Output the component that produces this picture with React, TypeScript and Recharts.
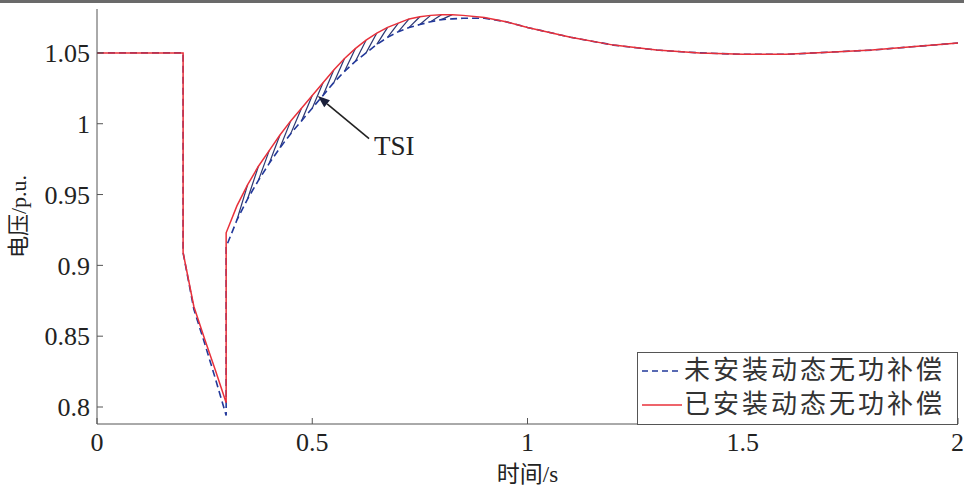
import { LineChart, Line, XAxis, YAxis, Legend, ReferenceLine } from "recharts";

// time axis (s); repeated instants mark the fault-on / fault-clear jumps
const time = [
  0, 0.2, 0.2, 0.225, 0.25, 0.275, 0.3, 0.3,
  0.325, 0.35, 0.375, 0.4, 0.425, 0.45, 0.475, 0.5, 0.525, 0.55, 0.575, 0.6,
  0.625, 0.65, 0.675, 0.7, 0.725, 0.75, 0.775, 0.8, 0.825, 0.85,
  0.9, 0.95, 1.0, 1.1, 1.2, 1.3, 1.4, 1.5, 1.6, 1.7, 1.8, 1.9, 2.0,
];

// 已安装动态无功补偿 (red, solid)
const withComp = [
  1.05, 1.05, 0.909, 0.871, 0.848, 0.826, 0.803, 0.923,
  0.942, 0.957, 0.97, 0.981, 0.992, 1.002, 1.011, 1.02, 1.029, 1.038, 1.046, 1.053,
  1.059, 1.064, 1.068, 1.071, 1.074, 1.0755, 1.0765, 1.077, 1.077, 1.0765,
  1.075, 1.072, 1.068, 1.061, 1.0555, 1.052, 1.05, 1.049, 1.049, 1.0505, 1.052, 1.0545, 1.057,
];

// 未安装动态无功补偿 (blue, dashed)
const noComp = [
  1.05, 1.05, 0.909, 0.869, 0.845, 0.82, 0.794, 0.913,
  0.932, 0.947, 0.96, 0.972, 0.983, 0.993, 1.002, 1.011, 1.02, 1.029, 1.037, 1.044,
  1.05, 1.056, 1.061, 1.065, 1.068, 1.07, 1.072, 1.0735, 1.074, 1.0745,
  1.0745, 1.072, 1.068, 1.061, 1.0555, 1.052, 1.05, 1.049, 1.049, 1.0505, 1.052, 1.0545, 1.057,
];

const xTicks = [0, 0.5, 1, 1.5, 2];
const yTicks = [0.8, 0.85, 0.9, 0.95, 1, 1.05];

// hatched area between the two curves (indices into the arrays above)
const hatchFrom = 8;
const hatchTo = 27;

// TSI arrow: tail, tip
const tsiArrow = [
  { x: 0.632, y: 0.9895 },
  { x: 0.513, y: 1.0195 },
];

const data = time.map((t, i) => ({ t, red: withComp[i], blue: noComp[i] }));

const RED = "#e8303a";
const BLUE = "#22389a";
const AXIS = "#555";
const serif = "Liberation Serif";
const cjk = "Liberation Serif, Noto Sans CJK SC";
const tickStyle = { fill: "#222", fontSize: 26, fontFamily: serif };

const hatches = [];
for (let i = hatchFrom; i <= hatchTo; i++) {
  hatches.push([
    { x: time[i], y: noComp[i] },
    { x: time[i + 1], y: withComp[i + 1] },
  ]);
}

function ArrowShape(p: any) {
  const { x1, y1, x2, y2 } = p;
  const dx = x2 - x1;
  const dy = y2 - y1;
  const len = Math.sqrt(dx * dx + dy * dy) || 1;
  const ux = dx / len;
  const uy = dy / len;
  const hl = 12;
  const hw = 4.5;
  const bx = x2 - ux * hl;
  const by = y2 - uy * hl;
  const pts = `${x2},${y2} ${bx - uy * hw},${by + ux * hw} ${bx + uy * hw},${by - ux * hw}`;
  return (
    <g>
      <line x1={x1} y1={y1} x2={bx} y2={by} stroke="#222" strokeWidth={1.6} />
      <polygon points={pts} fill="#1a1f3a" />
      <text x={x1 + 5} y={y1 + 16} style={{ fontSize: 27, fontFamily: serif, fill: "#222" }}>TSI</text>
    </g>
  );
}

function LegendBox() {
  const row = { display: "flex", alignItems: "center", height: 34 } as const;
  const txt = { fontSize: 26, letterSpacing: 3, color: "#333", fontFamily: cjk, lineHeight: "34px" };
  return (
    <div style={{ border: `1px solid ${AXIS}`, background: "#fff", width: 319, height: 70, boxSizing: "content-box", paddingTop: 1 }}>
      <div style={row}>
        <svg width={46} height={10}>
          <line x1={4} y1={5} x2={44} y2={5} stroke={BLUE} strokeWidth={1.5} strokeDasharray="6 4" />
        </svg>
        <span style={txt}>未安装动态无功补偿</span>
      </div>
      <div style={row}>
        <svg width={46} height={10}>
          <line x1={4} y1={5} x2={44} y2={5} stroke={RED} strokeWidth={1.5} />
        </svg>
        <span style={txt}>已安装动态无功补偿</span>
      </div>
    </div>
  );
}

export default function App() {
  return (
    <div style={{ position: "absolute", left: 0, top: 0, width: 964, height: 486, background: "#fff", fontFamily: serif }}>
      <div style={{ position: "absolute", left: 0, top: 0, width: 964, height: 3, background: "#6a6a6a" }} />
      <LineChart width={964} height={486} data={data} margin={{ top: 9, right: 6, left: 0, bottom: 0 }} style={{ fontFamily: serif }}>
        <XAxis
          dataKey="t" type="number" domain={[0, 2]} ticks={xTicks} height={62}
          tick={tickStyle} tickSize={-6} tickMargin={15}
          axisLine={{ stroke: AXIS }} tickLine={{ stroke: AXIS }}
          label={{ value: "时间/s", position: "insideBottom", offset: 4, style: { fontSize: 23, fill: "#222", fontFamily: cjk } }}
        />
        <XAxis
          xAxisId="top" orientation="top" dataKey="t" type="number" domain={[0, 2]} ticks={xTicks} height={0}
          tickSize={-6} tickFormatter={() => ""} axisLine={{ stroke: AXIS }} tickLine={{ stroke: AXIS }}
        />
        <YAxis
          type="number" domain={[0.788, 1.081]} ticks={yTicks} width={97}
          tick={tickStyle} tickSize={-6} tickMargin={13} tickFormatter={(v) => String(v)}
          axisLine={{ stroke: AXIS }} tickLine={{ stroke: AXIS }}
          label={{ value: "电压/p.u.", angle: -90, position: "center", dx: -30, style: { fontSize: 22, fill: "#222", fontFamily: cjk } }}
        />
        <YAxis
          yAxisId="right" orientation="right" type="number" domain={[0.788, 1.081]} ticks={yTicks} width={0}
          tickSize={-6} tickFormatter={() => ""} axisLine={{ stroke: AXIS }} tickLine={{ stroke: AXIS }}
        />
        {hatches.map((seg, i) => (
          <ReferenceLine key={i} segment={seg} stroke="#2a3570" strokeWidth={1.2} />
        ))}
        <Line type="linear" dataKey="blue" stroke={BLUE} strokeWidth={1.6} strokeDasharray="7 4" dot={false} isAnimationActive={false} />
        <Line type="linear" dataKey="red" stroke={RED} strokeWidth={1.5} dot={false} isAnimationActive={false} />
        <ReferenceLine segment={tsiArrow} shape={ArrowShape} />
        <Legend
          layout="horizontal" verticalAlign="middle" align="center"
          wrapperStyle={{ position: "absolute", left: 637, top: 352, width: 321, height: 72 }}
          content={() => <LegendBox />}
        />
      </LineChart>
    </div>
  );
}
